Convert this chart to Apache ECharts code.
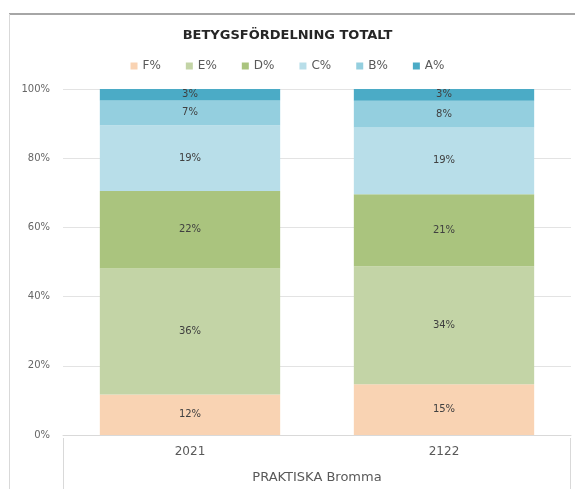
<!DOCTYPE html>
<html>
<head>
<meta charset="utf-8">
<script src="https://cdn.jsdelivr.net/npm/echarts@6/dist/echarts.min.js"></script>
<style>
  html, body { margin: 0; padding: 0; background: #fff; }
  #chart { width: 575px; height: 489px; }
</style>
</head>
<body>
<div id="chart"></div>
<script>
// kategorier (läsår)
var years = ['2021', '2122'];
var groupName = 'PRAKTISKA Bromma';
var grades = ['F%', 'E%', 'D%', 'C%', 'B%', 'A%'];

// andelar i procent
var gradeF = [11.7, 14.7];
var gradeE = [36.4, 34.1];
var gradeD = [22.4, 20.8];
var gradeC = [19.0, 19.3];
var gradeB = [7.2, 7.7];
var gradeA = [3.3, 3.4];

var colors = ['#f9d3b3', '#c3d4a6', '#aac47e', '#b8dee9', '#94cfdf', '#4babc6'];
var seriesData = [gradeF, gradeE, gradeD, gradeC, gradeB, gradeA];

var chart = echarts.init(document.getElementById('chart'));

var series = grades.map(function (g, i) {
  return {
    name: g,
    type: 'bar',
    stack: 'total',
    barWidth: '71%',
    data: seriesData[i],
    itemStyle: { color: colors[i] },
    label: {
      show: true,
      position: 'inside',
      color: '#404040',
      fontSize: 10,
      fontFamily: 'DejaVu Sans',
      formatter: function (p) { return Math.round(p.value) + '%'; }
    }
  };
});

chart.setOption({
  animation: false,
  textStyle: { fontFamily: 'DejaVu Sans' },
  title: {
    text: 'BETYGSFÖRDELNING TOTALT',
    left: 'center',
    top: 24,
    textStyle: { fontSize: 13, fontWeight: 'bold', color: '#262626', fontFamily: 'DejaVu Sans' }
  },
  legend: {
    data: grades,
    top: 55,
    left: 'center',
    itemWidth: 7,
    itemHeight: 7,
    itemGap: 25,
    icon: 'rect',
    textStyle: { fontSize: 12, color: '#595959' }
  },
  grid: { left: 63, right: 4, top: 89, bottom: 51 },
  xAxis: {
    type: 'category',
    data: years,
    name: groupName,
    nameLocation: 'middle',
    nameGap: 36,
    nameTextStyle: { fontSize: 13, color: '#595959' },
    axisLine: { lineStyle: { color: '#d9d9d9' } },
    axisTick: { show: false },
    axisLabel: { color: '#595959', fontSize: 12, margin: 11 }
  },
  yAxis: {
    type: 'value',
    min: 0,
    max: 100,
    interval: 20,
    axisLine: { show: false },
    axisTick: { show: false },
    axisLabel: { formatter: '{value}%', color: '#666666', fontSize: 10, margin: 13 },
    splitLine: { lineStyle: { color: '#e3e3e3' } }
  },
  graphic: [
    // ram runt diagrammet
    { type: 'line', shape: { x1: 9, y1: 14, x2: 575, y2: 14 }, style: { stroke: '#a6a6a6', lineWidth: 2 } },
    { type: 'line', shape: { x1: 9.5, y1: 14, x2: 9.5, y2: 489 }, style: { stroke: '#d9d9d9', lineWidth: 1 } },
    // kategoritabellens kanter
    { type: 'line', shape: { x1: 63.5, y1: 438, x2: 63.5, y2: 489 }, style: { stroke: '#d9d9d9', lineWidth: 1 } },
    { type: 'line', shape: { x1: 570.5, y1: 438, x2: 570.5, y2: 489 }, style: { stroke: '#d9d9d9', lineWidth: 1 } }
  ],
  series: series
});
</script>
</body>
</html>
